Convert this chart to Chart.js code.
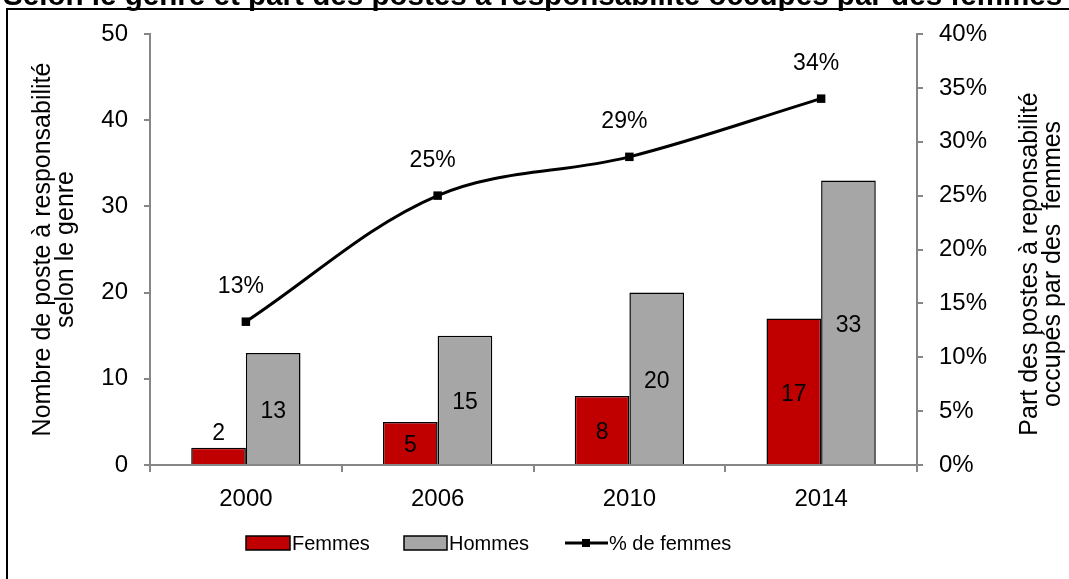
<!DOCTYPE html>
<html>
<head>
<meta charset="utf-8">
<script src="https://cdn.jsdelivr.net/npm/chart.js@4"></script>
<style>
  html, body { margin: 0; padding: 0; background: #fff; }
  #wrap { width: 1069px; height: 579px; }
</style>
</head>
<body>
<div id="wrap"><canvas id="Postes" width="1069" height="579"></canvas></div>
<script>
// data
var years = ['2000', '2006', '2010', '2014'];
var femmes = [2, 5, 8, 17];
var hommes = [13, 15, 20, 33];
var partFemmes = [13.3, 25, 28.6, 34];
var partLabels = ['13%', '25%', '29%', '34%'];

var titleText = 'Selon le genre et part des postes à responsabilité occupés par des femmes';
var rightTitle = ['Part des postes à reponsabilité', 'occupés par des  femmes'];
var FONT = 'Arial, "Liberation Sans", sans-serif';
var axisGray = '#868686';

// frame, clipped title, right axis title and custom legend
var framePlugin = {
  id: 'frame',
  beforeDraw: function(chart) {
    var c = chart.ctx;
    c.save();
    c.fillStyle = '#fff';
    c.fillRect(0, 0, chart.width, chart.height);
    c.fillStyle = '#000';
    c.font = 'bold 20px ' + FONT;
    var w = c.measureText(titleText).width;
    var size = 20 * 1060 / w;
    c.font = 'bold ' + size.toFixed(1) + 'px ' + FONT;
    c.textBaseline = 'alphabetic';
    c.textAlign = 'left';
    c.fillText(titleText, 3, 5);
    c.strokeStyle = '#000';
    c.lineWidth = 2;
    c.strokeRect(7, 9, chart.width + 20, chart.height + 20);
    c.restore();
  },
  afterDraw: function(chart) {
    var c = chart.ctx;
    c.save();
    // right axis title, read bottom to top like the left one
    c.font = '25px ' + FONT;
    c.fillStyle = '#000';
    c.textAlign = 'center';
    c.textBaseline = 'middle';
    c.save();
    c.translate(1030, 264);
    c.rotate(-Math.PI / 2);
    c.fillText(rightTitle[0], 0, 0);
    c.fillText(rightTitle[1], 0, 23);
    c.restore();

    c.font = '20px ' + FONT;
    c.textAlign = 'left';
    var y = 543;
    // Femmes
    c.fillStyle = '#C00000';
    c.fillRect(246, y - 7, 44, 14);
    c.strokeStyle = '#000';
    c.lineWidth = 1.5;
    c.strokeRect(246, y - 7, 44, 14);
    c.fillStyle = '#000';
    c.fillText('Femmes', 292, y + 1);
    // Hommes
    c.fillStyle = '#A6A6A6';
    c.fillRect(404, y - 7, 43, 14);
    c.strokeRect(404, y - 7, 43, 14);
    c.fillStyle = '#000';
    c.fillText('Hommes', 449, y + 1);
    // % de femmes
    c.lineWidth = 3;
    c.beginPath();
    c.moveTo(565, y);
    c.lineTo(608, y);
    c.stroke();
    c.fillRect(582, y - 4, 8, 8);
    c.fillText('% de femmes', 609, y + 1);
    c.restore();
  }
};

// value labels on bars and line points
var labelPlugin = {
  id: 'valueLabels',
  afterDatasetsDraw: function(chart) {
    var c = chart.ctx;
    c.save();
    c.font = '23px ' + FONT;
    c.fillStyle = '#000';
    c.textAlign = 'center';
    c.textBaseline = 'middle';
    chart.data.datasets.forEach(function(ds, i) {
      var meta = chart.getDatasetMeta(i);
      meta.data.forEach(function(el, j) {
        if (ds.type === 'line') {
          c.fillText(partLabels[j], el.x - 5, el.y - 35);
        } else {
          var v = ds.data[j];
          var top = el.y, base = el.base;
          if (base - top < 30) {
            c.fillText(String(v), el.x, top - 14);
          } else {
            c.fillText(String(v), el.x, (top + base) / 2 + 3);
          }
        }
      });
    });
    c.restore();
  }
};

var ctx = document.getElementById('Postes').getContext('2d');
var Postes = new Chart(ctx, {
  data: {
    labels: years,
    datasets: [{
      type: 'line',
      label: '% de femmes',
      data: partFemmes,
      yAxisID: 'y1',
      borderColor: '#000',
      backgroundColor: '#000',
      borderWidth: 3,
      tension: 0.35,
      pointStyle: 'rect',
      pointRadius: 6,
      pointBorderWidth: 0,
      order: 0
    }, {
      type: 'bar',
      label: 'Femmes',
      data: femmes,
      yAxisID: 'y',
      backgroundColor: '#C00000',
      borderColor: '#000',
      borderWidth: 1.5,
      categoryPercentage: 0.57,
      barPercentage: 1,
      order: 1
    }, {
      type: 'bar',
      label: 'Hommes',
      data: hommes,
      yAxisID: 'y',
      backgroundColor: '#A6A6A6',
      borderColor: '#000',
      borderWidth: 1.5,
      categoryPercentage: 0.57,
      barPercentage: 1,
      order: 1
    }]
  },
  options: {
    responsive: false,
    animation: false,
    layout: { padding: { left: 32, right: 5, top: 34, bottom: 0 } },
    plugins: {
      legend: { display: false },
      tooltip: { enabled: false },
      title: { display: false }
    },
    scales: {
      x: {
        offset: true,
        grid: { offset: true, drawOnChartArea: false, color: axisGray, tickLength: 7, lineWidth: 2 },
        border: { color: axisGray, width: 2 },
        ticks: { color: '#000', font: { family: FONT, size: 24 }, padding: 13 },
        afterFit: function(s) { s.height = 114; }
      },
      y: {
        position: 'left',
        min: 0, max: 50,
        ticks: { stepSize: 10, color: '#000', font: { family: FONT, size: 24 }, padding: 16 },
        grid: { drawOnChartArea: false, color: axisGray, tickLength: 6, lineWidth: 2 },
        border: { color: axisGray, width: 2 },
        title: {
          display: true,
          text: ['Nombre de poste à responsabilité', 'selon le genre'],
          color: '#000',
          font: { family: FONT, size: 25, lineHeight: 0.92 },
          padding: { top: 0, bottom: 0 }
        },
        afterFit: function(s) { s.width = 118; }
      },
      y1: {
        position: 'right',
        min: 0, max: 40,
        ticks: {
          stepSize: 5, color: '#000', font: { family: FONT, size: 24 }, padding: 16,
          callback: function(v) { return v + '%'; }
        },
        grid: { drawOnChartArea: false, color: axisGray, tickLength: 6, lineWidth: 2 },
        border: { color: axisGray, width: 2 },
        title: { display: false },
        afterFit: function(s) { s.width = 147; }
      }
    }
  },
  plugins: [framePlugin, labelPlugin]
});
</script>
</body>
</html>
